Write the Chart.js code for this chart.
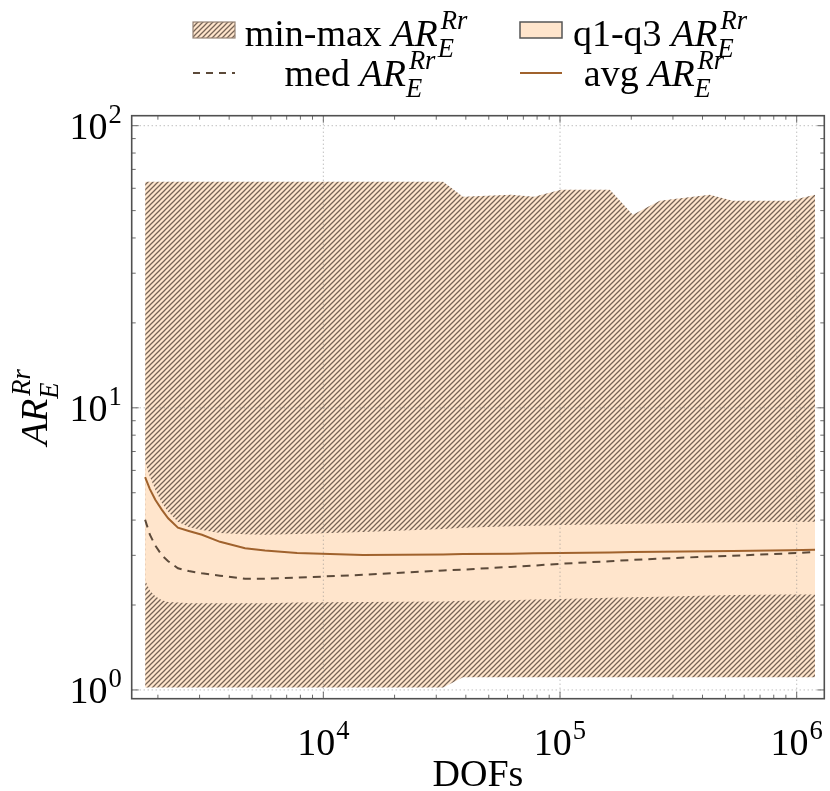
<!DOCTYPE html>
<html>
<head>
<meta charset="utf-8">
<script src="https://cdn.jsdelivr.net/npm/chart.js@4/dist/chart.umd.min.js"></script>
<style>html,body{margin:0;padding:0;background:#fff;}</style>
</head>
<body>
<canvas id="stage" width="830" height="791"></canvas>
<script>
//データ
var DOFS    = [1766, 1850, 1950, 2080, 2210, 2430, 2700, 3070, 3660, 4670, 5670, 7750, 14700, 32100, 38900, 62100, 77700, 100900, 162500, 203000, 264000, 429000, 537000, 935000, 1195000];
var AR_MAX  = [63.3, 63.3, 63.3, 63.3, 63.3, 63.3, 63.3, 63.3, 63.3, 63.3, 63.3, 63.3, 63.3, 63.3, 56.0, 56.9, 56.0, 59.3, 59.3, 48.3, 54.2, 56.9, 54.2, 54.2, 56.9];
var AR_MIN  = [1.02, 1.02, 1.02, 1.02, 1.02, 1.02, 1.02, 1.02, 1.02, 1.02, 1.02, 1.02, 1.02, 1.02, 1.11, 1.11, 1.11, 1.11, 1.11, 1.11, 1.11, 1.11, 1.11, 1.11, 1.11];
var AR_Q3   = [6.44, 5.70, 5.12, 4.60, 4.28, 3.95, 3.78, 3.69, 3.60, 3.56, 3.55, 3.57, 3.63, 3.72, 3.76, 3.80, 3.82, 3.84, 3.87, 3.88, 3.90, 3.92, 3.93, 3.94, 3.95];
var AR_Q1   = [2.45, 2.25, 2.15, 2.08, 2.05, 2.04, 2.03, 2.03, 2.03, 2.03, 2.03, 2.04, 2.05, 2.06, 2.07, 2.08, 2.09, 2.10, 2.12, 2.13, 2.14, 2.16, 2.17, 2.18, 2.18];
var AR_MED  = [4.01, 3.55, 3.25, 3.00, 2.86, 2.70, 2.64, 2.59, 2.54, 2.48, 2.48, 2.50, 2.56, 2.65, 2.67, 2.73, 2.76, 2.80, 2.86, 2.89, 2.92, 2.97, 2.99, 3.05, 3.08];
var AR_AVG  = [5.68, 5.15, 4.72, 4.35, 4.06, 3.76, 3.66, 3.55, 3.35, 3.18, 3.12, 3.06, 3.01, 3.02, 3.03, 3.04, 3.05, 3.06, 3.07, 3.08, 3.09, 3.10, 3.11, 3.13, 3.14];
//軸
var X_RANGE = [1550, 1.308e6];
var Y_RANGE = [0.931, 108.5];
var X_MAJOR = [1e4, 1e5, 1e6];
var Y_MAJOR = [1, 10, 100];

//色
var PEACH = 'rgb(255,229,204)';
var HATCH = 'rgb(118,100,86)';
var C_AVG = 'rgb(160,98,45)';
var C_MED = 'rgb(92,74,58)';
var FONT = "'Liberation Serif', 'DejaVu Serif', serif";
var FS = 38;

function pts(arr){
  return DOFS.map(function(d, i){ return {x: d, y: arr[i]}; });
}

//斜線パターン (north east lines)
function MakeHatch(){
  var p = 5;
  var c = document.createElement('canvas');
  c.width = p; c.height = p;
  var g = c.getContext('2d');
  g.fillStyle = PEACH;
  g.fillRect(0, 0, p, p);
  g.strokeStyle = HATCH;
  g.lineWidth = 1.25;
  g.beginPath();
  g.moveTo(-1, p + 1); g.lineTo(p + 1, -1);
  g.moveTo(-1, 1); g.lineTo(1, -1);
  g.moveTo(p - 1, p + 1); g.lineTo(p + 1, p - 1);
  g.stroke();
  return g.createPattern(c, 'repeat');
}
var hatch = MakeHatch();

//文字（上付き・下付き付き）
function F(size, it){ return (it ? 'italic ' : '') + size + 'px ' + FONT; }
function PartsWidth(ctx, parts, size){
  var w = 0;
  parts.forEach(function(p){
    ctx.font = F(size, p.it);
    w += ctx.measureText(p.t).width;
    var s = 0;
    ctx.font = F(size * 0.7, p.sit);
    if (p.sup) s = Math.max(s, ctx.measureText(p.sup).width + (p.it ? 3 : 1));
    if (p.sub) s = Math.max(s, ctx.measureText(p.sub).width);
    w += s;
  });
  return w;
}
function DrawParts(ctx, parts, x, y, size, align){
  var w = PartsWidth(ctx, parts, size);
  if (align == 'center') x -= w / 2;
  else if (align == 'right') x -= w;
  ctx.textAlign = 'left';
  ctx.textBaseline = 'alphabetic';
  parts.forEach(function(p){
    ctx.font = F(size, p.it);
    ctx.fillText(p.t, x, y);
    x += ctx.measureText(p.t).width;
    var s = 0;
    ctx.font = F(size * 0.7, p.sit);
    if (p.sup){
      var off = p.it ? 3 : 1;
      ctx.fillText(p.sup, x + off, y - size * (p.sub ? 0.46 : 0.42));
      s = Math.max(s, ctx.measureText(p.sup).width + off);
    }
    if (p.sub){
      ctx.fillText(p.sub, x, y + size * 0.3);
      s = Math.max(s, ctx.measureText(p.sub).width);
    }
    x += s;
  });
}
function AR(){ return {t: 'AR', it: true, sup: 'Rr', sub: 'E', sit: true}; }

//対数目盛
function LogTicks(min, max){
  var res = [];
  for (var e = Math.floor(Math.log10(min)); e <= Math.ceil(Math.log10(max)); e++){
    for (var m = 1; m <= 9; m++){
      var v = m * Math.pow(10, e);
      if (v > min && v < max) res.push({v: v, major: m == 1});
    }
  }
  return res;
}

var framePlugin = {
  id: 'frame',
  afterDatasetsDraw: function(chart){
    var ctx = chart.ctx, a = chart.chartArea;
    var xs = chart.scales.x, ys = chart.scales.y;
    ctx.save();
    //グリッド
    ctx.strokeStyle = 'rgba(140,140,140,0.8)';
    ctx.lineWidth = 1;
    ctx.setLineDash([1, 3]);
    ctx.beginPath();
    X_MAJOR.forEach(function(v){
      var px = xs.getPixelForValue(v);
      ctx.moveTo(px, a.top); ctx.lineTo(px, a.bottom);
    });
    Y_MAJOR.forEach(function(v){
      var py = ys.getPixelForValue(v);
      ctx.moveTo(a.left, py); ctx.lineTo(a.right, py);
    });
    ctx.stroke();
    ctx.setLineDash([]);
    //内向きの目盛線
    ctx.strokeStyle = '#6a6a6a';
    ctx.beginPath();
    LogTicks(xs.min, xs.max).forEach(function(t){
      var px = xs.getPixelForValue(t.v), len = t.major ? 7 : 4;
      ctx.moveTo(px, a.bottom); ctx.lineTo(px, a.bottom - len);
      ctx.moveTo(px, a.top); ctx.lineTo(px, a.top + len);
    });
    LogTicks(ys.min, ys.max).forEach(function(t){
      var py = ys.getPixelForValue(t.v), len = t.major ? 7 : 4;
      ctx.moveTo(a.left, py); ctx.lineTo(a.left + len, py);
      ctx.moveTo(a.right, py); ctx.lineTo(a.right - len, py);
    });
    ctx.stroke();
    //枠
    ctx.strokeStyle = '#505050';
    ctx.lineWidth = 1.6;
    ctx.strokeRect(a.left, a.top, a.right - a.left, a.bottom - a.top);
    ctx.restore();
  },
  afterDraw: function(chart){
    var ctx = chart.ctx, a = chart.chartArea;
    var xs = chart.scales.x, ys = chart.scales.y;
    ctx.save();
    ctx.fillStyle = '#000';
    //目盛ラベル
    X_MAJOR.forEach(function(v){
      var e = Math.round(Math.log10(v));
      DrawParts(ctx, [{t: '10', sup: String(e)}], xs.getPixelForValue(v), 755, FS, 'center');
    });
    Y_MAJOR.forEach(function(v){
      var e = Math.round(Math.log10(v));
      DrawParts(ctx, [{t: '10', sup: String(e)}], a.left - 10, ys.getPixelForValue(v) + 13, FS, 'right');
    });
    //軸タイトル
    DrawParts(ctx, [{t: 'DOFs'}], (a.left + a.right) / 2, 786, FS, 'center');
    ctx.save();
    ctx.translate(47, (a.top + a.bottom) / 2);
    ctx.rotate(-Math.PI / 2);
    DrawParts(ctx, [AR()], 0, 0, FS, 'center');
    ctx.restore();

    //凡例
    ctx.fillStyle = hatch;
    ctx.fillRect(193, 22, 42, 16);
    ctx.strokeStyle = 'rgb(150,132,118)';
    ctx.lineWidth = 1.2;
    ctx.strokeRect(193, 22, 42, 16);
    ctx.fillStyle = PEACH;
    ctx.fillRect(520, 22, 42, 16);
    ctx.strokeStyle = '#555';
    ctx.lineWidth = 1.5;
    ctx.strokeRect(520, 22, 42, 16);
    ctx.lineWidth = 2;
    ctx.strokeStyle = C_MED;
    ctx.setLineDash([7, 6]);
    ctx.beginPath(); ctx.moveTo(193, 73); ctx.lineTo(235, 73); ctx.stroke();
    ctx.setLineDash([]);
    ctx.strokeStyle = C_AVG;
    ctx.beginPath(); ctx.moveTo(520, 73); ctx.lineTo(562, 73); ctx.stroke();

    ctx.fillStyle = '#000';
    DrawParts(ctx, [{t: 'min-max '}, AR()], 356, 46, FS, 'center');
    DrawParts(ctx, [{t: 'q1-q3 '}, AR()], 660, 46, FS, 'center');
    DrawParts(ctx, [{t: 'med '}, AR()], 360, 86, FS, 'center');
    DrawParts(ctx, [{t: 'avg '}, AR()], 654, 86, FS, 'center');
    ctx.restore();
  }
};

var canvas = document.getElementById('stage');
var chart = new Chart(canvas, {
  type: 'line',
  data: {
    datasets: [
      {label: 'min-max', data: pts(AR_MAX), fill: '+1', backgroundColor: hatch, borderWidth: 0, pointRadius: 0, order: 3},
      {label: 'min', data: pts(AR_MIN), fill: false, borderWidth: 0, pointRadius: 0, order: 3},
      {label: 'q1-q3', data: pts(AR_Q3), fill: '+1', backgroundColor: PEACH, borderWidth: 0, pointRadius: 0, order: 2},
      {label: 'q1', data: pts(AR_Q1), fill: false, borderWidth: 0, pointRadius: 0, order: 2},
      {label: 'med', data: pts(AR_MED), fill: false, borderColor: C_MED, borderWidth: 2, borderDash: [8, 6], pointRadius: 0, order: 1},
      {label: 'avg', data: pts(AR_AVG), fill: false, borderColor: C_AVG, borderWidth: 2, pointRadius: 0, order: 0}
    ]
  },
  options: {
    responsive: false,
    animation: false,
    layout: {padding: {left: 131.7, top: 115.7, right: 5.7, bottom: 92.3}},
    scales: {
      x: {type: 'logarithmic', min: X_RANGE[0], max: X_RANGE[1], display: false},
      y: {type: 'logarithmic', min: Y_RANGE[0], max: Y_RANGE[1], display: false}
    },
    plugins: {
      legend: {display: false},
      tooltip: {enabled: false}
    }
  },
  plugins: [framePlugin]
});
</script>
</body>
</html>
